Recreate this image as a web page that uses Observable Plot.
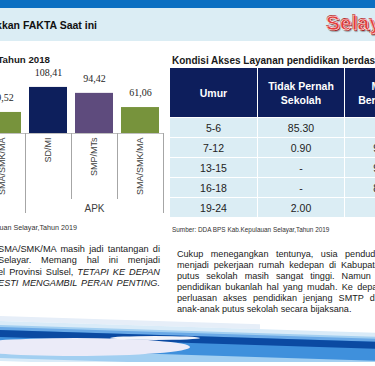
<!DOCTYPE html>
<html><head><meta charset="utf-8">
<script src="https://cdn.jsdelivr.net/npm/d3@7"></script>
<script src="https://cdn.jsdelivr.net/npm/@observablehq/plot@0.6"></script>
<style>
html,body{margin:0;padding:0;background:#fff;}
body{width:375px;height:366px;overflow:hidden;position:relative;font-family:"Liberation Sans",Arial,sans-serif;color:#1a1a1a;}
.abs{position:absolute;white-space:nowrap;}
#topbar{left:0;top:0;width:375px;height:8px;background:#0b6fc1;}
#band{left:0;top:8px;width:375px;height:33px;background:#dbedf4;}
#headline{right:278px;top:19px;font-size:10.5px;line-height:12px;font-weight:bold;color:#111;}
#brand{left:326px;top:12px;font-size:21px;line-height:22px;font-weight:bold;color:#e23b3b;-webkit-text-stroke:0.6px #fff;text-shadow:1px 1px 0 #9c1c1c,-0.6px -0.6px 0 #b52a2a,1.5px 1.5px 1px rgba(0,0,0,0.3);}
#chartTitle{right:325px;top:54px;font-size:9.7px;line-height:12px;font-weight:bold;}
#chart{left:-21px;top:62px;}
#srcL{right:298px;top:222.5px;font-size:7.2px;line-height:9px;color:#333;}
#tableTitle{left:172px;top:54.5px;font-size:10px;line-height:12px;font-weight:bold;}
#tbl{left:170px;top:68px;}
#srcR{left:172px;top:226px;font-size:6.4px;line-height:8px;color:#333;}
.row{display:flex;}
.cell{box-sizing:border-box;display:flex;align-items:center;justify-content:center;text-align:center;border-right:1.5px solid #fff;white-space:normal;}
.hcell{height:49px;background:#0d1e5c;color:#fff;font-weight:bold;font-size:10.5px;line-height:14px;}
.bcell{height:20px;background:#dbedf4;border-top:1.5px solid #fff;font-size:10.5px;color:#222;}
#paraL{left:-2px;top:243.7px;width:162px;font-size:9.2px;line-height:11.6px;}
#paraR{left:177px;top:248.5px;width:208px;font-size:9.1px;line-height:11px;}
.jl{white-space:nowrap;text-align:justify;text-align-last:justify;height:11.6px;}
.jr{white-space:nowrap;text-align:justify;text-align-last:justify;height:11px;}
.last{text-align:left;text-align-last:left;}
#swoosh{position:fixed;left:0;bottom:4px;width:375px;height:50px;overflow:hidden;}
#skew{position:absolute;left:0;top:0;width:375px;height:60px;transform-origin:0 0;transform:skewY(1.8deg);}
.st{position:absolute;left:0;width:375px;}
</style></head>
<body>
<div id="topbar" class="abs"></div>
<div id="band" class="abs"></div>
<div id="headline" class="abs">Menunjukkan FAKTA Saat ini</div>
<div id="brand" class="abs">Selayar</div>
<div id="chartTitle" class="abs">Angka Partisipasi Sekolah Tahun 2018</div>
<div id="chart" class="abs"></div>
<div id="srcL" class="abs">Sumber: DDA BPS Kab.Kepulauan Selayar,Tahun 2019</div>
<div id="tableTitle" class="abs">Kondisi Akses Layanan pendidikan berdasarkan Umur</div>
<div id="tbl" class="abs"></div>
<div id="srcR" class="abs">Sumber: DDA BPS Kab.Kepulauan Selayar,Tahun 2019</div>
<div id="paraL" class="abs">
<div class="jl">SMA/SMK/MA masih jadi tantangan di</div>
<div class="jl">Selayar. Memang hal ini menjadi</div>
<div class="jl">el Provinsi Sulsel, <i>TETAPI KE DEPAN</i></div>
<div class="jl"><i>ESTI MENGAMBIL PERAN PENTING.</i></div>
</div>
<div id="paraR" class="abs">
<div class="jr">Cukup menegangkan tentunya, usia penduduk</div>
<div class="jr">menjadi pekerjaan rumah kedepan di Kabupaten</div>
<div class="jr">putus sekolah masih sangat tinggi. Namun di</div>
<div class="jr">pendidikan bukanlah hal yang mudah. Ke depan,</div>
<div class="jr">perluasan akses pendidikan jenjang SMTP dan</div>
<div class="jr last">anak-anak putus sekolah secara bijaksana.</div>
</div>
<div id="swoosh">
 <div id="skew">
  <div class="st" style="top:4px;height:5px;width:260px;background:#e6eef8;"></div>
  <div class="st" style="top:9px;height:40px;background:#d9ebf8;"></div>
  <div class="st" style="top:13px;height:33px;background:#a2cff1;"></div>
  <div class="st" style="top:17px;height:20px;background:#3f90dc;"></div>
  <div class="st" style="top:15px;height:3px;background:#6aa9e6;"></div>
  <div class="st" style="top:18px;height:7px;background:#0b4aa2;"></div>
 </div>
 <div class="st" style="left:-40px;top:26px;width:230px;height:18px;border-radius:50%;background:#ebebf8;"></div>
 <div class="st" style="left:110px;top:24px;width:90px;height:4px;border-radius:50%;background:#f3f5fb;"></div>
</div>
<script>
// ---- chart data ----
const categories = ["SMA/SMK/MA", "SD/MI", "SMP/MTs", "SMA/SMK/MA"];
const groups = ["APM", "APK", "APK", "APK"];
const values = [49.52, 108.41, 94.42, 61.06];
const groupLabels = ["APK"];
// ---- table data ----
const tableHeaders = ["Umur", "Tidak Pernah Sekolah", "Masih Bersekolah"];
const ageGroups = ["5-6", "7-12", "13-15", "16-18", "19-24"];
const tidakPernah = ["85.30", "0.90", "-", "-", "2.00"];
const masihSekolah = ["-", "99.10", "98.70", "81.20", "-"];

// styles
const barColors = {"SD/MI": "#0d1f5c", "SMP/MTs": "#5e4b7d", "SMA/SMK/MA": "#77933c"};
const fmt = v => v.toFixed(2).replace(".", ",");

const bars = categories.map((c, i) => ({key: String(i), cat: c, group: groups[i], value: values[i]}));
const inner = bars.filter((d, i) => i > 0 && groups[i] === groups[i - 1]);
const outer = bars.filter((d, i) => i > 0 && groups[i] !== groups[i - 1]);
const lastEdge = [bars[bars.length - 1]];
const groupMid = groupLabels.map(g => {
  const m = bars.filter(d => d.group === g);
  return m[Math.floor(m.length / 2)];
});
const lineColor = "#a6a6a6";

const chart = Plot.plot({
  width: 184, height: 153,
  marginLeft: 0, marginRight: 0, marginTop: 20, marginBottom: 82,
  style: {background: "transparent", overflow: "visible", fontFamily: "Liberation Sans"},
  x: {domain: bars.map(d => d.key), paddingInner: 0.17, paddingOuter: 0.085, axis: null},
  y: {domain: [0, 120], axis: null},
  color: {domain: Object.keys(barColors), range: Object.values(barColors)},
  marks: [
    Plot.ruleY([0], {stroke: "#bfbfbf"}),
    Plot.barY(bars, {x: "key", y: "value", fill: "cat"}),
    Plot.text(bars, {x: "key", y: "value", text: d => fmt(d.value), dy: -15, fontFamily: "Liberation Serif", fontSize: 10, fill: "#262626"}),
    Plot.text(bars, {x: "key", y: 0, text: "cat", rotate: -90, textAnchor: "end", dy: 4, fontSize: 9, fill: "#404040"}),
    Plot.ruleX(inner, {x: "key", y1: 0, y2: 0, dx: -23, insetBottom: -66, stroke: lineColor}),
    Plot.ruleX(outer, {x: "key", y1: 0, y2: 0, dx: -23, insetBottom: -80, stroke: lineColor}),
    Plot.ruleX(lastEdge, {x: "key", y1: 0, y2: 0, dx: 23, insetBottom: -80, stroke: lineColor}),
    Plot.text(groupMid, {x: "key", y: 0, text: "group", dy: 75, fontSize: 10, fill: "#404040"})
  ]
});
document.getElementById("chart").appendChild(chart);

// table
const colWidths = [88, 87, 84];
const tbl = document.getElementById("tbl");
const hr = document.createElement("div"); hr.className = "row";
tableHeaders.forEach((h, j) => {
  const c = document.createElement("div"); c.className = "cell hcell";
  c.style.width = colWidths[j] + "px"; c.textContent = h; hr.appendChild(c);
});
tbl.appendChild(hr);
ageGroups.forEach((a, i) => {
  const r = document.createElement("div"); r.className = "row";
  [a, tidakPernah[i], masihSekolah[i]].forEach((v, j) => {
    const c = document.createElement("div"); c.className = "cell bcell";
    c.style.width = colWidths[j] + "px"; c.textContent = v; r.appendChild(c);
  });
  tbl.appendChild(r);
});
</script>
</body></html>
